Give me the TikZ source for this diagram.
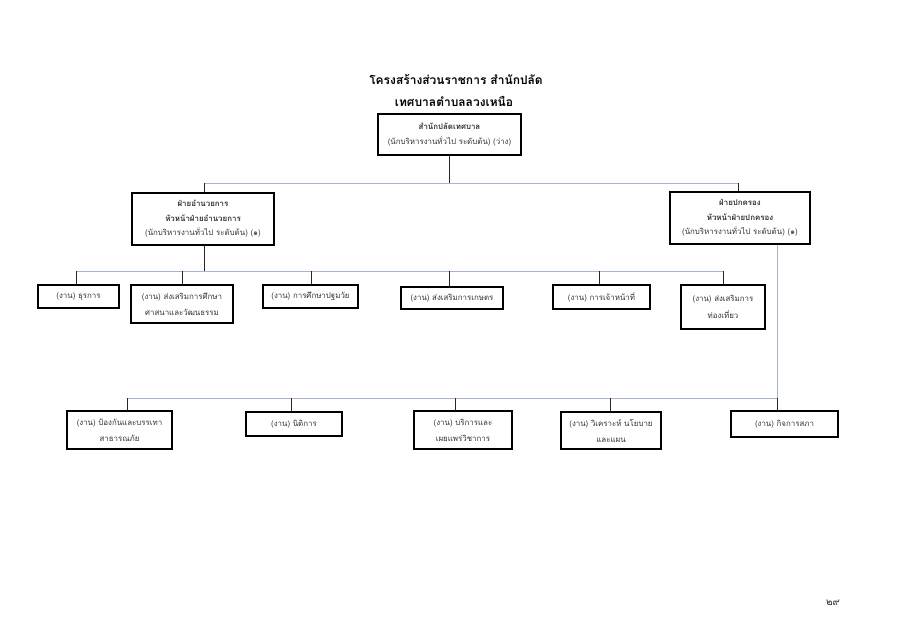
\documentclass[tikz,border=0pt]{standalone}
\usepackage{fontspec}
\setmainfont[Script=Thai]{Loma}
\definecolor{busblue}{HTML}{A8B6CC}
\definecolor{txt}{HTML}{333333}
\begin{document}
\begin{tikzpicture}[x=1pt,y=-1pt,
  box/.style={draw=black,line width=1.1pt,align=center,inner sep=1pt,text=txt,font=\fontsize{7.9}{14.5}\selectfont},
  bus/.style={draw=busblue,line width=0.8pt},
  drop/.style={draw=black!85,line width=0.9pt},
  ttl/.style={font=\fontsize{12}{20}\selectfont\bfseries,text=black}]
\fill[white] (0,0) rectangle (900,636);
\useasboundingbox (0,0) rectangle (900,636);
% titles
\node[ttl] (t1) at (456,80) {โครงสร้างส่วนราชการ สำนักปลัด};
\node[ttl] (t2) at (454,101) {เทศบาลตำบลลวงเหนือ};
% top
\node[box,minimum width=143,minimum height=41] (top) at (449.5,134.5) {\textbf{สำนักปลัดเทศบาล}\\(นักบริหารงานทั่วไป ระดับต้น) (ว่าง)};
% second level
\node[box,minimum width=142,minimum height=52] (left) at (203,219) {\textbf{ฝ่ายอำนวยการ}\\\textbf{หัวหน้าฝ่ายอำนวยการ}\\(นักบริหารงานทั่วไป ระดับต้น) (๑)};
\node[box,minimum width=140,minimum height=52] (right) at (740,218) {\textbf{ฝ่ายปกครอง}\\\textbf{หัวหน้าฝ่ายปกครอง}\\(นักบริหารงานทั่วไป ระดับต้น) (๑)};
% row 1
\node[box,minimum width=81,minimum height=23] (b1) at (78.5,296.5) {(งาน) ธุรการ};
\node[box,minimum width=102,minimum height=38,font=\fontsize{7.9}{16}\selectfont] (b2) at (182,304) {(งาน) ส่งเสริมการศึกษา\\ศาสนาและวัฒนธรรม};
\node[box,minimum width=95,minimum height=23] (b3) at (310.5,296.5) {(งาน) การศึกษาปฐมวัย};
\node[box,minimum width=102,minimum height=22] (b4) at (452,298) {(งาน) ส่งเสริมการเกษตร};
\node[box,minimum width=97,minimum height=24] (b5) at (601.5,297) {(งาน) การเจ้าหน้าที่};
\node[box,minimum width=84,minimum height=44,font=\fontsize{7.9}{17}\selectfont] (b6) at (723,307) {(งาน) ส่งเสริมการ\\ท่องเที่ยว};
% row 2
\node[box,minimum width=105,minimum height=38,font=\fontsize{7.9}{16}\selectfont] (c1) at (119.5,430) {(งาน) ป้องกันและบรรเทา\\สาธารณภัย};
\node[box,minimum width=96,minimum height=24] (c2) at (294,424) {(งาน) นิติการ};
\node[box,minimum width=98,minimum height=38,font=\fontsize{7.9}{16}\selectfont] (c3) at (463,430) {(งาน) บริการและ\\เผยแพร่วิชาการ};
\node[box,minimum width=100,minimum height=37,font=\fontsize{7.9}{16}\selectfont] (c4) at (611,430.5) {(งาน) วิเคราะห์ นโยบาย\\และแผน};
\node[box,minimum width=107,minimum height=26] (c5) at (784.5,424) {(งาน) กิจการสภา};
% page number
\node[font=\fontsize{10}{12}\selectfont,text=txt] (pg) at (833,603) {๒๙};
% bus coordinates
\coordinate (bus0) at (0,183);
\coordinate (bus1) at (0,271);
\coordinate (bus2) at (0,398);
% top to second level
\draw[drop] (top.south) -- (top.south |- bus0);
\draw[bus] ([xshift=1]left.north |- bus0) -- ([xshift=-2]right.north |- bus0);
\draw[drop] ([xshift=1]left.north |- bus0) -- ([xshift=1]left.north);
\draw[drop] ([xshift=-2]right.north |- bus0) -- ([xshift=-2]right.north);
% left to row 1
\draw[drop] ([xshift=1]left.south) -- ([xshift=1]left.south |- bus1);
\draw[bus] ([xshift=-2]b1.north |- bus1) -- (b6.north |- bus1);
\foreach \n/\s in {b1/-2,b2/0,b3/1,b4/-3,b5/-2,b6/0}{
  \draw[drop] ([xshift=\s]\n.north |- bus1) -- ([xshift=\s]\n.north);
}
% right to row 2
\draw[bus] ([xshift=37]right.south) -- ([xshift=37]right.south |- bus2);
\draw[bus] ([xshift=7.5]c1.north |- bus2) -- ([xshift=-7.5]c5.north |- bus2);
\foreach \n/\s in {c1/7.5,c2/-3,c3/-8,c4/-1,c5/-7.5}{
  \draw[drop] ([xshift=\s]\n.north |- bus2) -- ([xshift=\s]\n.north);
}
\end{tikzpicture}
\end{document}
